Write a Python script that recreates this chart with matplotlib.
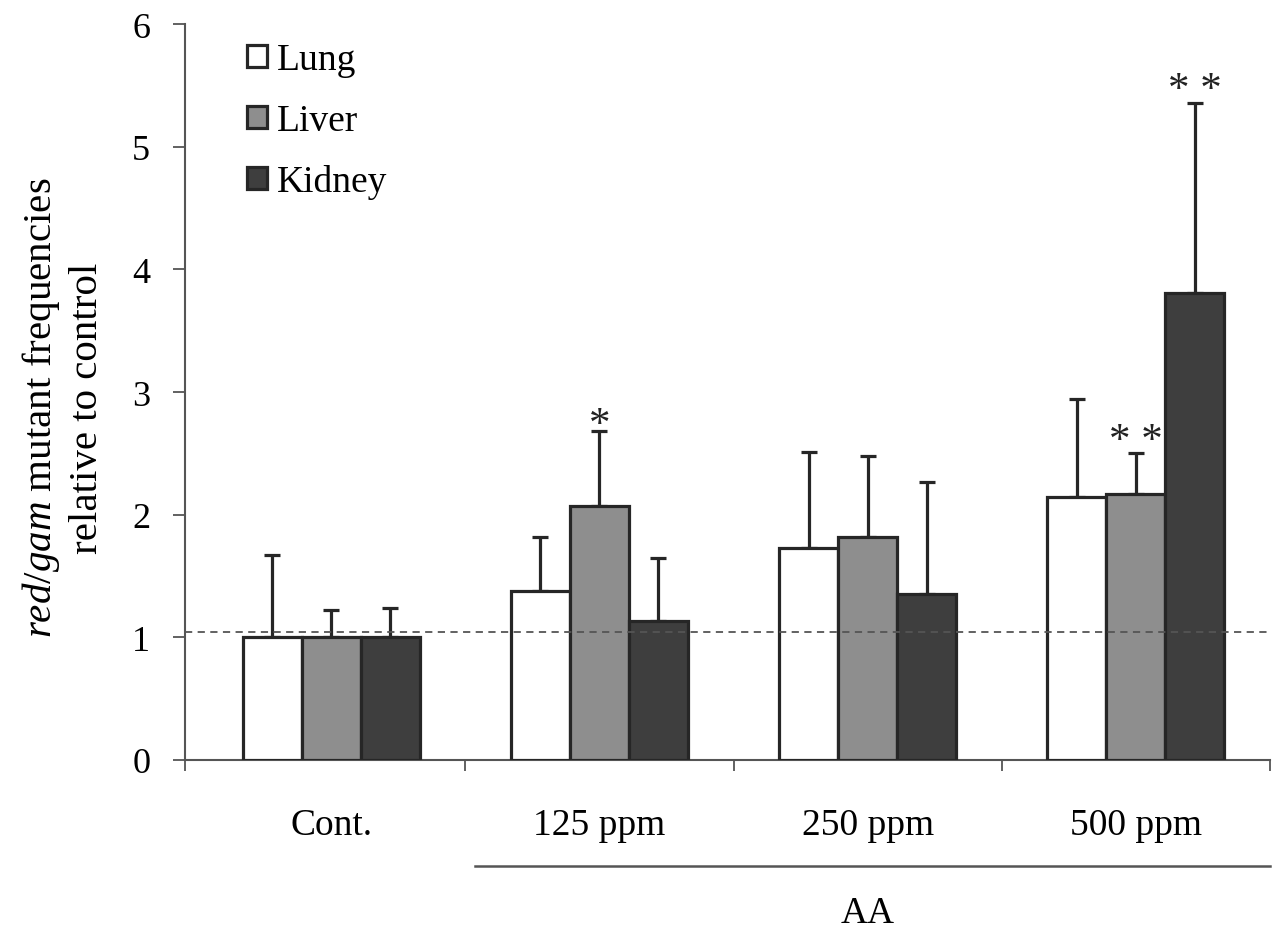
import numpy as np
import matplotlib.pyplot as plt
from matplotlib import transforms

plt.rcParams['font.family'] = ['Liberation Serif', 'DejaVu Serif']
plt.rcParams['mathtext.fontset'] = 'custom'
plt.rcParams['mathtext.rm'] = 'Liberation Serif'
plt.rcParams['mathtext.it'] = 'Liberation Serif:italic'

# dati llegides de la figura
groups = ['Cont.', '125 ppm', '250 ppm', '500 ppm']
tissues = ['Lung', 'Liver', 'Kidney']
lung = [1.0, 1.38, 1.73, 2.14]
liver = [1.0, 2.07, 1.82, 2.17]
kidney = [1.0, 1.13, 1.35, 3.81]
lung_err = [0.67, 0.44, 0.78, 0.80]
liver_err = [0.22, 0.61, 0.66, 0.33]
kidney_err = [0.24, 0.52, 0.92, 1.55]
# signes de significació: (grup, teixit, text, alçada)
stars = [(1, 1, '*', 2.73), (3, 1, '* *', 2.60), (3, 2, '* *', 5.46)]
ref_line = 1.04

colors = ['white', '#8e8e8e', '#3e3e3e']
edge = '#262626'
w = 0.22

fig = plt.figure(figsize=(12.72, 9.29), dpi=100)
ax = fig.add_axes([185/1272, 1 - 761/929, 1085/1272, 736/929])

x = np.arange(len(groups))
for k, (vals, errs) in enumerate(zip([lung, liver, kidney], [lung_err, liver_err, kidney_err])):
    xpos = x + (k - 1) * w
    ax.bar(xpos, vals, w, color=colors[k], edgecolor=edge, linewidth=2.3,
           label=tissues[k], zorder=3)
    ax.errorbar(xpos, vals, yerr=[np.zeros(len(errs)), errs], fmt='none',
                ecolor=edge, elinewidth=2.3, capsize=6, capthick=2.3, zorder=2)

for g, t, s, yy in stars:
    ax.text(x[g] + (t - 1) * w, yy, s, ha='center', va='center', fontsize=31, color='#222222')

ax.axhline(ref_line, color='#555555', lw=1.3, ls=(0, (4, 3)), zorder=4)

ax.set_xlim(-0.545, 3.5)
ax.set_ylim(0, 6)
ax.set_yticks(range(7))
ax.set_xticks([-0.545, 0.5, 1.5, 2.5, 3.5])
ax.set_xticklabels([])
ax.tick_params(axis='y', labelsize=26, length=9, width=1.3, color='#555555', pad=16)
ax.tick_params(axis='x', length=8, width=1.3, color='#555555')
ax.spines['top'].set_visible(False)
ax.spines['right'].set_visible(False)
for sp in ['left', 'bottom']:
    ax.spines[sp].set_color('#555555')
    ax.spines[sp].set_linewidth(1.5)

trans = transforms.blended_transform_factory(ax.transData, ax.transAxes)
for i, g in enumerate(groups):
    ax.text(i, -0.088, g, transform=trans, ha='center', va='center', fontsize=27)
ax.plot([0.536, 3.5], [-0.144, -0.144], transform=trans, color='#555555', lw=1.8, clip_on=False)
ax.text(2, -0.207, 'AA', transform=trans, ha='center', va='center', fontsize=27)

fig.text(63/1272, 1 - 408/929, '$\\mathit{red/gam}$ mutant frequencies\nrelative to control',
         rotation=90, ha='center', va='center', fontsize=29.5, multialignment='center',
         linespacing=1.22)

leg = ax.legend(loc='upper left', bbox_to_anchor=(0.036, 1.005), frameon=False, fontsize=27,
                handlelength=0.55, handleheight=0.55, handletextpad=0.25, labelspacing=0.7,
                borderaxespad=0.2)

fig.savefig('out.png', dpi=100)
